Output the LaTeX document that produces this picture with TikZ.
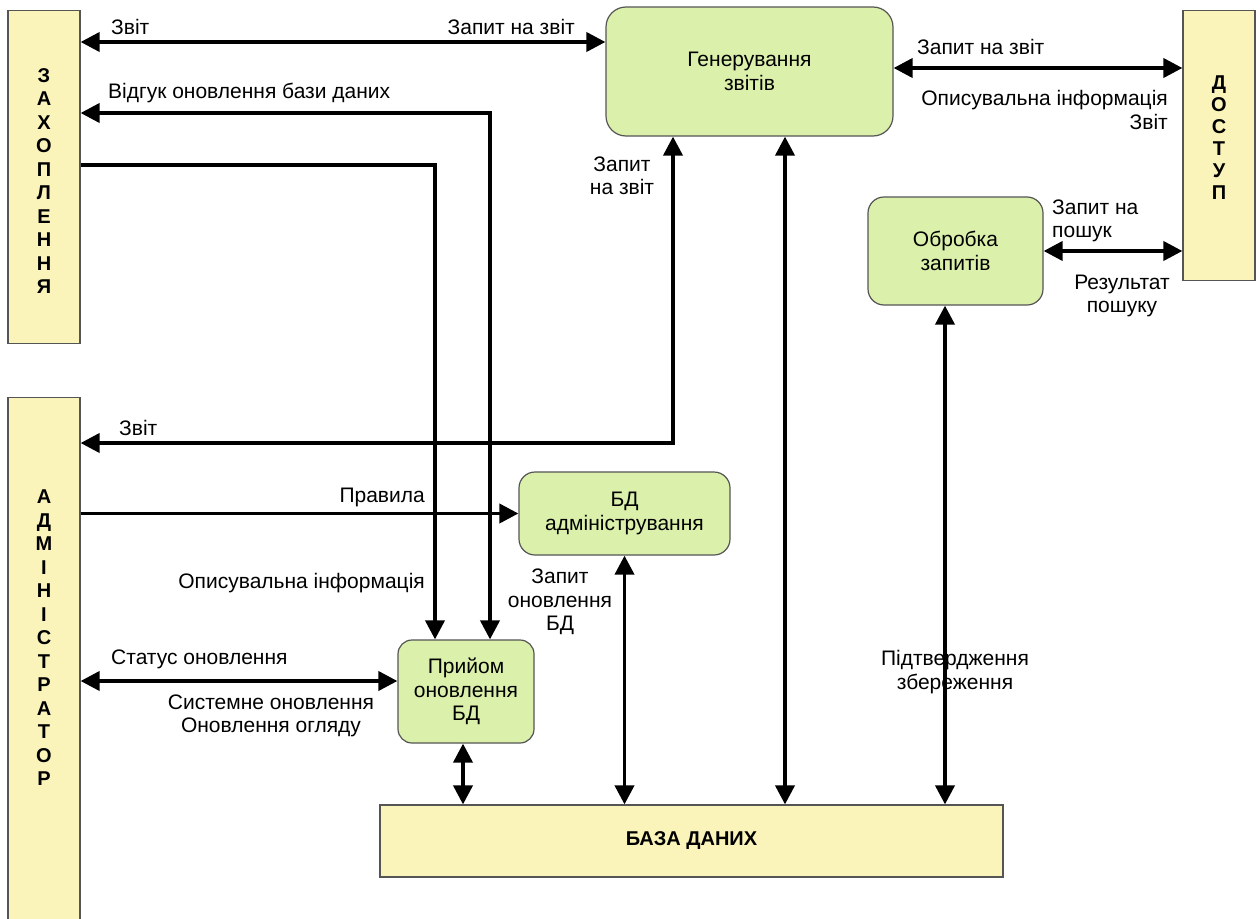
\documentclass[tikz,border=0pt]{standalone}
\usepackage{fontspec}
\setmainfont{Liberation Sans}
\usetikzlibrary{arrows.meta}

\definecolor{boxyel}{RGB}{251,244,186}
\definecolor{boxgrn}{RGB}{219,240,170}
\definecolor{boxrim}{RGB}{85,85,85}

\begin{document}
\begin{tikzpicture}[x=1pt,y=-1pt,
  every node/.style={font=\fontsize{21}{23.5}\selectfont},
  sidebox/.style={draw=boxrim,fill=boxyel,line width=1.2pt,minimum width=72pt,inner sep=0,anchor=north},
  letters/.style={inner sep=0,align=center,font=\fontsize{20}{23.5}\selectfont\bfseries},
  procbox/.style={draw=boxrim,fill=boxgrn,line width=1.2pt,rounded corners=16pt,align=center,inner sep=0},
  lbl/.style={inner sep=0},
  con/.style={line width=3.8pt,-{Triangle[length=19pt,width=19pt]}},
  dcon/.style={line width=3.8pt,{Triangle[length=19pt,width=19pt]}-{Triangle[length=19pt,width=19pt]}}]
\useasboundingbox[fill=white] (0,0) rectangle (1260,918);

% side boxes
\node[sidebox,minimum height=333pt] (zah) at (44,10) {};
\node[letters] (zahtxt) at (44,181) {З\\А\\Х\\О\\П\\Л\\Е\\Н\\Н\\Я};
\node[sidebox,minimum height=535pt] (adm) at (44,397) {};
\node[letters] (admtxt) at (44,638) {А\\Д\\М\\І\\Н\\І\\С\\Т\\Р\\А\\Т\\О\\Р};
\node[sidebox,minimum height=270pt] (dost) at (1219,10) {};
\node[letters,font=\fontsize{20}{22}\selectfont\bfseries] (dosttxt) at (1219,138) {Д\\О\\С\\Т\\У\\П};

% processes
\node[procbox,rounded corners=20pt,minimum width=287pt,minimum height=129pt] (gen) at (749.5,71.5) {Генерування\\звітів};
\node[procbox,minimum width=175pt,minimum height=108pt] (obr) at (955.5,251) {Обробка\\запитів};
\node[procbox,minimum width=211pt,minimum height=83pt] (bdadm) at (624.5,513.5) {БД\\адміністрування};
\node[procbox,rounded corners=14pt,minimum width=136pt,minimum height=103pt] (pryi) at (466,691.5) {Прийом\\оновлення\\БД};
\node[draw=boxrim,fill=boxyel,line width=1.2pt,minimum width=623pt,minimum height=72pt,font=\fontsize{20}{23}\selectfont\bfseries] (baza) at (691.5,841) {БАЗА ДАНИХ};

% bends and levels
\coordinate (ya) at (0,42);
\coordinate (yb) at (490,113);
\coordinate (yc) at (435,165);
\coordinate (yd) at (673,443);
\coordinate (ye) at (0,68);
\coordinate (yf) at (0,681);
\coordinate (xg) at (785,0);
\coordinate (xh) at (945,0);
\coordinate (xi) at (463,0);

% flows
\draw[dcon] (zah.east |- ya) -- (gen.west |- ya);
\draw[dcon] (zah.east |- yb) -- (yb) -- (yb |- pryi.north);
\draw[con] (zah.east |- yc) -- (yc) -- (yc |- pryi.north);
\draw[dcon] (adm.east |- yd) -- (yd) -- (yd |- gen.south);
\draw[con] (adm.east |- bdadm.west) -- (bdadm.west);
\draw[dcon] (adm.east |- yf) -- (pryi.west |- yf);
\draw[dcon] (pryi.south -| xi) -- (baza.north -| xi);
\draw[dcon] (bdadm.south) -- (baza.north -| bdadm.south);
\draw[dcon] (gen.south -| xg) -- (baza.north -| xg);
\draw[dcon] (obr.south -| xh) -- (baza.north -| xh);
\draw[dcon] (gen.east |- ye) -- (dost.west |- ye);
\draw[dcon] (obr.east) -- (dost.west |- obr.east);

% labels
\node[lbl,anchor=west] (l1) at (111,27) {Звіт};
\node[lbl,anchor=east] (l2) at (575,27) {Запит на звіт};
\node[lbl,anchor=west] (l3) at (108,93) {Відгук оновлення бази даних};
\node[lbl,align=center] (l4) at (622,176) {Запит\\на звіт};
\node[lbl,anchor=west] (l5) at (119,428) {Звіт};
\node[lbl,anchor=east] (l6) at (425,497) {Правила};
\node[lbl,anchor=east] (l7) at (425,583) {Описувальна інформація};
\node[lbl,align=center] (l8) at (560,602) {Запит\\оновлення\\БД};
\node[lbl,anchor=west] (l9) at (111,659) {Статус оновлення};
\node[lbl,align=center] (l10) at (271,716) {Системне оновлення\\Оновлення огляду};
\node[lbl,align=center] (l11) at (955,672) {Підтвердження\\збереження};
\node[lbl,anchor=west] (l12) at (917,47) {Запит на звіт};
\node[lbl,align=right,anchor=east] (l13) at (1168,110) {Описувальна інформація\\Звіт};
\node[lbl,align=left,anchor=west] (l14) at (1052,221) {Запит на\\пошук};
\node[lbl,align=center] (l15) at (1122,296) {Результат\\пошуку};
\end{tikzpicture}
\end{document}
